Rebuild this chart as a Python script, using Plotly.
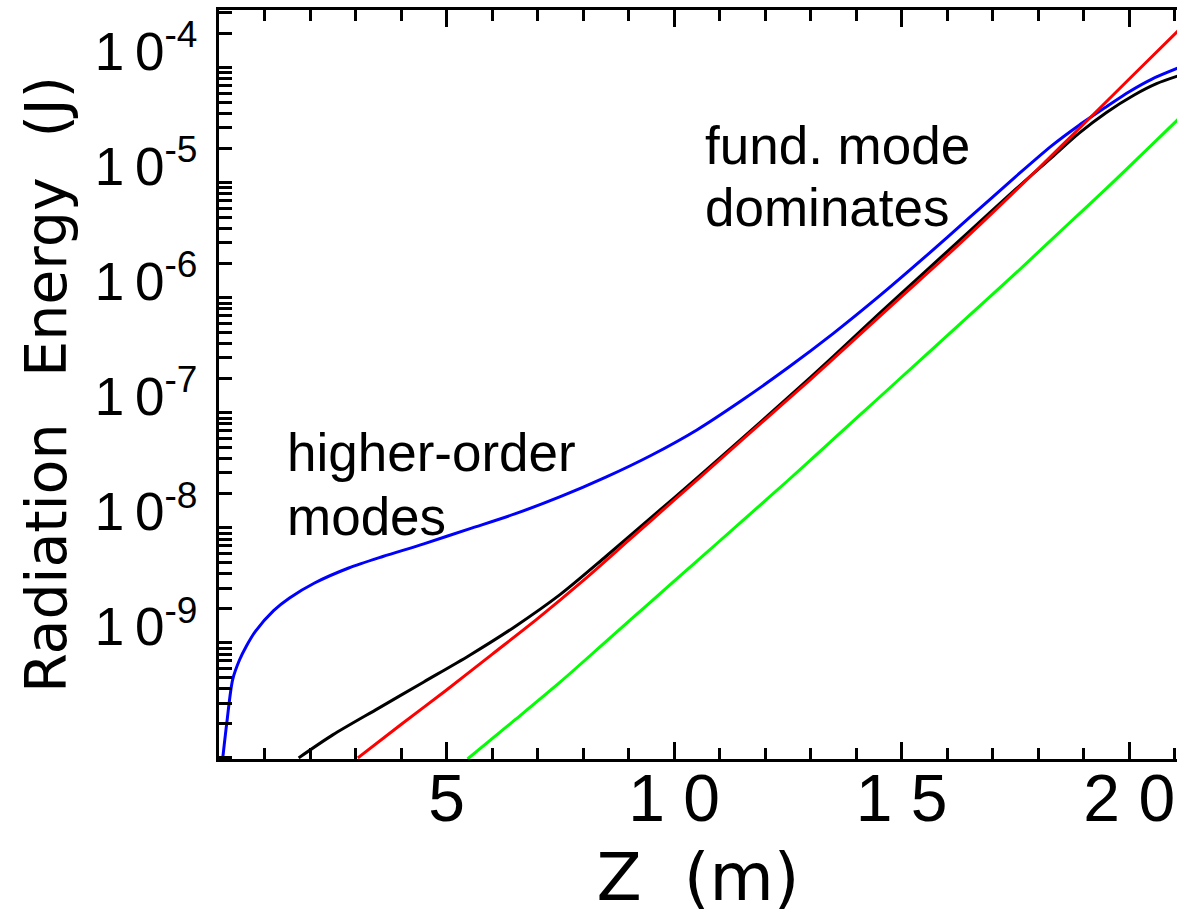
import plotly.graph_objects as go

# ---- data (Z in m, energy in J) ----
z_blue = [0.08, 0.17, 0.3, 0.45, 0.6, 0.8, 1.2, 1.55, 2.1, 2.85, 3.6, 4.5, 5.5, 6.5, 7.5, 8.5,
          9.5, 10.5, 11.5, 12.5, 13.5, 14.5, 15.5, 16.5, 17.5, 18.3, 18.9, 19.5, 20.0, 20.5, 21.1]
e_blue = [4.90e-11, 1.0e-10, 2.40e-10, 3.55e-10, 4.68e-10, 6.31e-10, 9.55e-10, 1.23e-9, 1.66e-9,
          2.24e-9, 2.82e-9, 3.63e-9, 4.90e-9, 6.61e-9, 9.33e-9, 1.38e-8, 2.14e-8, 3.55e-8, 6.46e-8,
          1.23e-7, 2.45e-7, 5.13e-7, 1.12e-6, 2.51e-6, 5.62e-6, 1.05e-5, 1.58e-5, 2.29e-5, 3.09e-5,
          3.98e-5, 5.01e-5]

z_black = [1.75, 2.5, 3.5, 4.5, 5.5, 6.5, 7.5, 8.5, 9.5, 10.5, 11.5, 12.5, 13.5, 14.5, 15.5,
           16.5, 17.5, 18.3, 18.9, 19.5, 20.1, 20.6, 21.1]
e_black = [5.01e-11, 7.94e-11, 1.35e-10, 2.29e-10, 3.89e-10, 6.92e-10, 1.32e-9, 2.82e-9, 6.17e-9,
           1.35e-8, 3.02e-8, 6.76e-8, 1.55e-7, 3.63e-7, 8.32e-7, 1.91e-6, 4.37e-6, 8.32e-6, 1.35e-5,
           2.04e-5, 2.88e-5, 3.63e-5, 4.27e-5]

z_red = [3.05, 4.0, 5.0, 6.0, 7.0, 8.0, 9.0, 10.0, 11.0, 12.0, 13.0, 14.0, 15.0, 16.0, 17.0,
         18.0, 19.0, 20.0, 21.1]
e_red = [5.01e-11, 9.77e-11, 1.95e-10, 3.98e-10, 8.13e-10, 1.74e-9, 3.89e-9, 8.71e-9, 1.95e-8,
         4.37e-8, 9.77e-8, 2.24e-7, 5.13e-7, 1.17e-6, 2.75e-6, 6.61e-6, 1.62e-5, 3.98e-5, 1.07e-4]

z_green = [5.46, 6.5, 7.5, 8.5, 9.5, 10.5, 11.5, 12.5, 13.5, 14.5, 15.5, 16.5, 17.5, 18.5, 19.5,
           20.5, 21.1]
e_green = [4.90e-11, 1.07e-10, 2.29e-10, 5.13e-10, 1.15e-9, 2.57e-9, 5.75e-9, 1.29e-8, 2.95e-8,
           6.76e-8, 1.55e-7, 3.55e-7, 8.13e-7, 1.91e-6, 4.47e-6, 1.07e-5, 1.82e-5]

x_tick_vals = [0, 5, 10, 15, 20]
x_tick_text = ["", "5", "1\u20080", "1\u20085", "2\u20080"]
y_tick_vals = [1e-10, 1e-9, 1e-8, 1e-7, 1e-6, 1e-5, 1e-4]
y_tick_text = ["", "1\u20090<sup>-9</sup>", "1\u20090<sup>-8</sup>", "1\u20090<sup>-7</sup>",
               "1\u20090<sup>-6</sup>", "1\u20090<sup>-5</sup>", "1\u20090<sup>-4</sup>"]
y_minor_mult = [1.5, 2, 2.5, 3, 3.5, 4, 4.5, 5]
y_minor_vals = [m * 10.0 ** k for k in range(-11, -3) for m in y_minor_mult]

fig = go.Figure()
for zs, es, col in [(z_black, e_black, "#000000"), (z_blue, e_blue, "#0000ff"),
                    (z_red, e_red, "#ff0000"), (z_green, e_green, "#00ff00")]:
    fig.add_trace(go.Scatter(x=zs, y=es, mode="lines",
                             line=dict(color=col, width=3, shape="spline", smoothing=0.8),
                             showlegend=False, hoverinfo="skip"))

annot_font = dict(family="Liberation Sans, Arial, sans-serif", size=53, color="black")
for txt, zx, ly in [("higher-order", 1.46, -7.65), ("modes", 1.46, -8.2),
                    ("fund. mode", 10.63, -4.98), ("dominates", 10.63, -5.52)]:
    fig.add_annotation(x=zx, y=ly, xref="x", yref="y", text=txt, showarrow=False,
                       xanchor="left", yanchor="middle", font=annot_font)

fig.update_layout(
    template="none",
    width=1179, height=918,
    margin=dict(l=219, r=2, t=10, b=159, autoexpand=False),
    paper_bgcolor="white", plot_bgcolor="white",
    xaxis=dict(
        automargin=False,
        range=[0, 21.05], showgrid=False, zeroline=False,
        showline=True, linewidth=3, linecolor="black", mirror="ticks",
        ticks="inside", ticklen=17, tickwidth=3, tickcolor="black",
        tickmode="array", tickvals=x_tick_vals, ticktext=x_tick_text,
        tickfont=dict(family="Liberation Sans, Arial, sans-serif", size=66, color="black"),
        ticklabelstandoff=-20,
        minor=dict(dtick=1, tick0=0, ticks="inside", ticklen=11, tickwidth=3, tickcolor="black",
                   showgrid=False),
        title=dict(text="Z\u00a0\u00a0(m)", standoff=20,
                   font=dict(family="DejaVu Sans, sans-serif", size=66, color="black")),
    ),
    yaxis=dict(
        automargin=False,
        type="log", range=[-10.31, -3.80], showgrid=False, zeroline=False,
        showline=True, linewidth=3, linecolor="black", mirror=False,
        ticks="inside", ticklen=13, tickwidth=3, tickcolor="black",
        tickmode="array", tickvals=y_tick_vals, ticktext=y_tick_text,
        tickfont=dict(family="Liberation Sans, Arial, sans-serif", size=53, color="black"),
        ticklabelstandoff=8, ticklabelshift=18,
        minor=dict(tickmode="array", tickvals=y_minor_vals, ticks="inside", ticklen=13,
                   tickwidth=3, tickcolor="black", showgrid=False),
        title=dict(text="Radiation\u2002\u00a0Energy\u2002\u2009(J)", standoff=10,
                   font=dict(family="DejaVu Sans, sans-serif", size=57, color="black")),
    ),
)

fig.write_html("out.html", config={"displayModeBar": False},
               post_script="document.body.style.margin='0';")
